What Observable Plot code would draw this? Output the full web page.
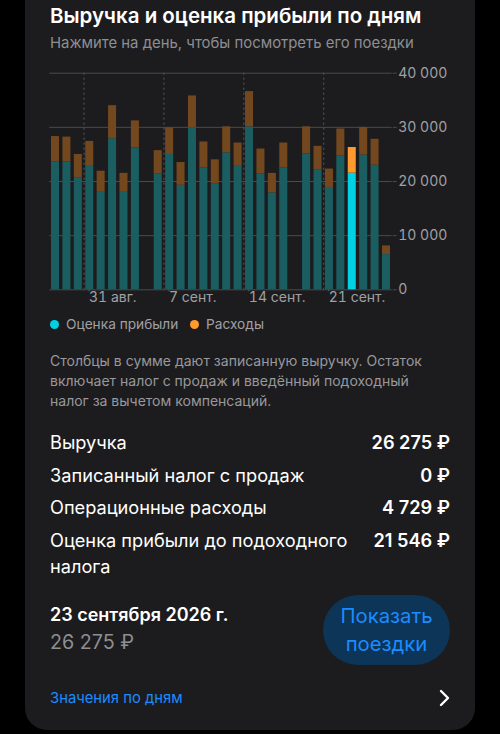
<!DOCTYPE html>
<html>
<head>
<meta charset="utf-8">
<script src="https://cdn.jsdelivr.net/npm/d3@7"></script>
<script src="https://cdn.jsdelivr.net/npm/@observablehq/plot@0.6"></script>
<style>
  html, body { margin: 0; padding: 0; background: #000; width: 500px; height: 734px; overflow: hidden; font-family: Inter, "Noto Sans", sans-serif; }
  .card { position: absolute; left: 25px; top: -30px; width: 450px; height: 760px; background: #1c1c1e; border-radius: 22px; }
  .abs { position: absolute; white-space: nowrap; }
  #chart { position: absolute; left: 40px; top: 60px; }
  .title { left: 50px; top: 3px; font-size: 20.5px; font-weight: 600; color: #fff; }
  .sub { left: 50px; top: 34px; font-size: 14.9px; color: #8e8e93; }
  .legend { top: 316px; font-size: 13.7px; color: #a0a0a4; }
  .dot { display: inline-block; width: 9px; height: 9px; border-radius: 50%; margin-right: 7px; vertical-align: 0px; }
  .note { left: 50px; top: 351px; font-size: 14px; line-height: 20px; color: #98989d; white-space: normal; width: 400px; }
  .row { left: 50px; width: 400px; font-size: 18.2px; color: #fff; }
  .row .v { position: absolute; right: 0; top: 0; font-weight: 600; }
  .date { left: 50px; top: 604px; font-size: 18px; font-weight: 600; color: #fff; }
  .amt { left: 50px; top: 630px; font-size: 19.7px; color: #8e8e93; }
  .btn { left: 323px; top: 595px; width: 127px; height: 70px; border-radius: 35px; background: #0d3558; color: #1a8cff; font-size: 20.3px; text-align: center; line-height: 28px; display: flex; flex-direction: column; justify-content: center; }
  .link { left: 50px; top: 689px; font-size: 14.8px; color: #1a8cff; }
  .chev { left: 438px; top: 687px; }
</style>
</head>
<body>
<div class="card"></div>
<div class="abs title">Выручка и оценка прибыли по дням</div>
<div class="abs sub">Нажмите на день, чтобы посмотреть его поездки</div>
<div id="chart"></div>
<div class="abs legend" style="left:50px"><span class="dot" style="background:#00d2e4"></span>Оценка прибыли</div>
<div class="abs legend" style="left:190px"><span class="dot" style="background:#ff9a2e"></span>Расходы</div>
<div class="abs note">Столбцы в сумме дают записанную выручку. Остаток включает налог с продаж и введённый подоходный налог за вычетом компенсаций.</div>
<div class="abs row" style="top:431px">Выручка<span class="v">26 275 ₽</span></div>
<div class="abs row" style="top:464px">Записанный налог с продаж<span class="v">0 ₽</span></div>
<div class="abs row" style="top:496px">Операционные расходы<span class="v">4 729 ₽</span></div>
<div class="abs row" style="top:527px; line-height:26px; white-space:normal">Оценка прибыли до подоходного<br>налога<span class="v" style="line-height:26px">21 546 ₽</span></div>
<div class="abs date">23 сентября 2026 г.</div>
<div class="abs amt">26 275 ₽</div>
<div class="abs btn"><div>Показать</div><div>поездки</div></div>
<div class="abs link">Значения по дням</div>
<svg class="abs chev" width="14" height="22" viewBox="0 0 14 22"><path d="M3 4 L10 11 L3 18" fill="none" stroke="#fff" stroke-width="2.4" stroke-linecap="round" stroke-linejoin="round"/></svg>
<script>
const dates = ["2026-08-28","2026-08-29","2026-08-30","2026-08-31","2026-09-01","2026-09-02","2026-09-03","2026-09-04",
  "2026-09-06","2026-09-07","2026-09-08","2026-09-09","2026-09-10","2026-09-11","2026-09-12","2026-09-13","2026-09-14",
  "2026-09-15","2026-09-16","2026-09-17","2026-09-19","2026-09-20","2026-09-21","2026-09-22","2026-09-23","2026-09-24",
  "2026-09-25","2026-09-26"];
const profit = [23600,23600,20700,22800,18000,27900,18000,26200,
  21400,25000,19300,29900,22500,19600,25300,22800,30100,
  21400,17900,22500,25100,22100,18900,24700,21546,24900,
  23000,6500];
const expenses = [4700,4600,4300,4600,3900,6100,3500,5000,
  4300,4900,4200,5900,4800,4400,4800,4300,6500,
  4600,3600,4600,5000,4400,3400,5000,4729,5100,
  4800,1600];
const selectedDate = "2026-09-23";
const xTicks = ["2026-08-31","2026-09-07","2026-09-14","2026-09-21"];
const xTickLabels = ["31 авг.","7 сент.","14 сент.","21 сент."];
const yTicks = [0,10000,20000,30000,40000];
const xDomain = ["2026-08-28","2026-09-27"];

const rows = [];
dates.forEach((d, i) => {
  rows.push({date: new Date(d), value: profit[i], kind: "profit", sel: d === selectedDate});
  rows.push({date: new Date(d), value: expenses[i], kind: "expenses", sel: d === selectedDate});
});
const colorOf = r => r.kind === "profit" ? (r.sel ? "#00d2e4" : "#1b5e62") : (r.sel ? "#ff9a2e" : "#74481f");
const tickDates = xTicks.map(d => new Date(d));
const fmtX = d => xTickLabels[tickDates.findIndex(t => +t === +d)];
const fmtY = v => d3.format(",")(v).replace(/,/g, " ");

const chart = Plot.plot({
  width: 430, height: 260,
  marginLeft: 9.3, marginRight: 78.3, marginTop: 12.7, marginBottom: 30.7,
  x: {type: "utc", domain: xDomain.map(d => new Date(d))},
  y: {domain: [0, 40000]},
  color: {type: "identity"},
  style: {background: "transparent", color: "#a0a0a4", fontFamily: "Inter, 'Noto Sans', sans-serif", fontSize: "14px"},
  marks: [
    Plot.gridY({ticks: yTicks, stroke: "#4a4a4c", strokeOpacity: 1}),
    Plot.gridX({ticks: tickDates, stroke: "#5a5a5e", strokeOpacity: 1, strokeDasharray: "2,3"}),
    Plot.axisY({anchor: "right", ticks: yTicks, tickSize: 4, tickPadding: 2, tickFormat: fmtY, stroke: "#4a4a4c", fill: "#a0a0a4", label: null}),
    Plot.axisX({ticks: tickDates, tickSize: 22, tickPadding: 0, tickFormat: fmtX, stroke: "#5a5a5e", strokeDasharray: "2,3", fill: "#a0a0a4", textAnchor: "start", dx: 5, dy: -20, label: null}),
    Plot.rectY(rows, {x: "date", interval: d3.utcDay, y: "value", fill: colorOf, insetLeft: 1.7, insetRight: 1.7})
  ]
});
document.getElementById("chart").appendChild(chart);
</script>
</body>
</html>
